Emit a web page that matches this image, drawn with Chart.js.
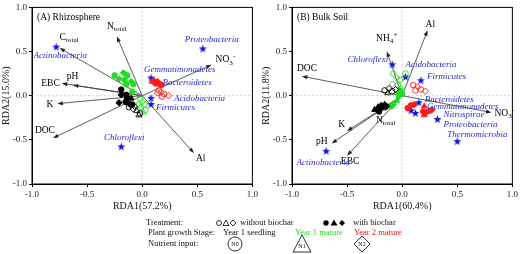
<!DOCTYPE html>
<html>
<head>
<meta charset="utf-8">
<script src="https://cdn.jsdelivr.net/npm/chart.js@4"></script>
<style>
  html, body { margin: 0; padding: 0; background: #fff; }
  #wrap { position: relative; width: 520px; height: 254px; overflow: hidden; }
  .pane { position: absolute; top: 0; width: 260px; height: 215px; }
  #legend { position: absolute; left: 0; top: 212px; font-family: "Liberation Serif", serif; }
</style>
</head>
<body>
<div id="wrap">
  <div class="pane" style="left:0"><canvas id="rhizo" width="260" height="215"></canvas></div>
  <div class="pane" style="left:260px"><canvas id="bulk" width="260" height="215"></canvas></div>
  <svg id="legend" width="520" height="42" viewBox="0 0 520 42">
    <g font-size="8.5" fill="#111" dominant-baseline="middle">
      <text x="146" y="11">Treatment:</text>
      <circle cx="219" cy="11" r="2.5" fill="none" stroke="#000" stroke-width="0.8"/>
      <polygon points="226,8 223,13.5 229,13.5" fill="none" stroke="#000" stroke-width="0.8"/>
      <polygon points="233,8 236,11 233,14 230,11" fill="none" stroke="#000" stroke-width="0.8"/>
      <text x="240" y="11">without biochar</text>
      <circle cx="326" cy="11" r="2.7" fill="#000"/>
      <polygon points="334,7.5 330.5,13.5 337.5,13.5" fill="#000"/>
      <polygon points="342,8 345,11 342,14 339,11" fill="#000"/>
      <text x="353" y="11">with biochar</text>

      <text x="148" y="21">Plant growth Stage:</text>
      <text x="223" y="21">Year 1 seedling</text>
      <text x="295" y="21" fill="#22dd22">Year 1 mature</text>
      <text x="354" y="21" fill="#ee1111">Year 2 mature</text>

      <text x="148" y="32">Nutrient input:</text>
      <circle cx="235" cy="32" r="7" fill="none" stroke="#000" stroke-width="0.8"/>
      <text x="235" y="32.5" font-size="6" text-anchor="middle">N0</text>
      <polygon points="302,23 293,40 311,40" fill="none" stroke="#000" stroke-width="0.8"/>
      <text x="302" y="35" font-size="6" text-anchor="middle">N1</text>
      <polygon points="362,24 370,32 362,40 354,32" fill="none" stroke="#000" stroke-width="0.8"/>
      <text x="362" y="32.5" font-size="6" text-anchor="middle">N2</text>
    </g>
  </svg>
</div>
<script>
const SERIF = '"Liberation Serif", "Times New Roman", serif';
const GREEN = '#22dd22', RED = '#ff1a1a', BLACK = '#000000', BLUE = '#1414d8';

// ---- (A) Rhizosphere ------------------------------------------------
const rhizoEnv  = ['N_{total}', 'C_{total}', 'pH', 'EBC', 'K', 'DOC', 'Al', 'NO_{3}^{-}'];
const rhizoEnvX = [-0.23, -0.75, -0.63, -0.73, -0.77, -0.81, 0.47, 0.63];
const rhizoEnvY = [0.67, 0.54, 0.12, 0.14, -0.09, -0.48, -0.65, 0.35];

const rhizoTaxa  = ['Actinobacteria', 'Proteobacteria', 'Gemmatimonadetes', 'Bacteroidetes', 'Acidobacteria', 'Firmicutes', 'Chloroflexi'];
const rhizoTaxaX = [-0.78, 0.55, 0.08, 0.14, 0.08, 0.08, -0.19];
const rhizoTaxaY = [0.55, 0.53, 0.20, 0.14, -0.03, -0.10, -0.58];

// sample scores: seedling / year1 mature / year2 mature, open = no biochar
const rhizoSeedOpenX = [-0.12, -0.08, -0.05, -0.02, -0.07, -0.03];
const rhizoSeedOpenY = [-0.13, -0.15, -0.17, -0.20, -0.12, -0.22];
const rhizoSeedOpenS = ['c', 'd', 't', 'c', 'd', 't'];
const rhizoSeedFillX = [-0.19, -0.21, -0.15, -0.135, -0.11, -0.09, -0.10, -0.145, -0.19];
const rhizoSeedFillY = [0.01, -0.08, -0.07, -0.03, -0.10, -0.10, -0.03, 0.01, 0.07];
const rhizoSeedFillS = ['d', 'd', 'c', 'c', 'd', 'c', 't', 'c', 'c'];
const rhizoMatOpenX  = [-0.02, 0.00, 0.02, -0.01, 0.03, 0.01, -0.03];
const rhizoMatOpenY  = [-0.03, -0.07, -0.10, -0.13, -0.16, -0.19, -0.10];
const rhizoMatOpenS  = ['c', 'd', 'c', 'd', 'c', 't', 'c'];
const rhizoMatFillX  = [-0.25, -0.17, -0.135, -0.21, -0.16, -0.10, -0.145, -0.08, -0.09];
const rhizoMatFillY  = [0.23, 0.26, 0.23, 0.19, 0.18, 0.16, 0.13, 0.13, 0.045];
const rhizoMatFillS  = ['c', 'd', 'c', 'd', 'c', 'd', 'c', 'c', 'c'];
const rhizoY2OpenX   = [0.15, 0.17, 0.20, 0.24, 0.18, 0.14];
const rhizoY2OpenY   = [0.06, 0.04, 0.02, 0.00, -0.01, 0.03];
const rhizoY2OpenS   = ['c', 'd', 'c', 'd', 'c', 'd'];
const rhizoY2FillX   = [0.09, 0.12, 0.14, 0.16, 0.18, 0.11];
const rhizoY2FillY   = [0.16, 0.14, 0.16, 0.13, 0.12, 0.17];
const rhizoY2FillS   = ['t', 'c', 'd', 'c', 'd', 't'];

// ---- (B) Bulk soil --------------------------------------------------
const bulkEnv  = ['NH_{4}^{+}', 'Al', 'DOC', 'NO_{3}^{-}', 'K', 'pH', 'EBC', 'N_{total}'];
const bulkEnvX = [-0.14, 0.23, -0.91, 0.81, -0.50, -0.64, -0.50, -0.22];
const bulkEnvY = [0.50, 0.74, 0.22, -0.19, -0.40, -0.54, -0.68, -0.18];

const bulkTaxa  = ['Chloroflexi', 'Acidobacteria', 'Firmicutes', 'Bacteroidetes', 'Gemmatimonadetes', 'Nitrospirae', 'Proteobacteria', 'Thermomicrobia', 'Actinobacteria'];
const bulkTaxaX = [-0.09, 0.03, 0.17, 0.15, 0.08, 0.12, 0.32, 0.50, -0.69];
const bulkTaxaY = [0.35, 0.21, 0.17, -0.08, -0.17, -0.20, -0.27, -0.52, -0.63];

const bulkSeedOpenX = [-0.16, -0.12, -0.09, -0.06, -0.13];
const bulkSeedOpenY = [0.06, 0.08, 0.05, 0.07, 0.03];
const bulkSeedOpenS = ['c', 'd', 'c', 'd', 't'];
const bulkSeedFillX = [-0.25, -0.22, -0.19, -0.17, -0.21, -0.16, -0.14];
const bulkSeedFillY = [-0.16, -0.13, -0.11, -0.14, -0.18, -0.10, -0.12];
const bulkSeedFillS = ['t', 't', 'd', 't', 'c', 't', 'd'];
const bulkMatOpenX  = [-0.08, 0.03, -0.05, -0.02, -0.09, -0.04, -0.01];
const bulkMatOpenY  = [0.25, 0.25, 0.20, 0.18, 0.13, 0.12, 0.08];
const bulkMatOpenS  = ['c', 'c', 'd', 'c', 'd', 'c', 'd'];
const bulkMatFillX  = [-0.02, -0.03, 0.00, -0.05, -0.08, -0.10, -0.03];
const bulkMatFillY  = [0.06, 0.03, 0.02, -0.06, -0.10, -0.12, 0.00];
const bulkMatFillS  = ['c', 'd', 'c', 't', 'd', 'c', 'c'];
const bulkY2OpenX   = [0.10, 0.14, 0.17, 0.21, 0.12];
const bulkY2OpenY   = [0.12, 0.10, 0.07, 0.05, 0.06];
const bulkY2OpenS   = ['c', 'd', 'c', 'd', 'c'];
const bulkY2FillX   = [0.05, 0.08, 0.11, 0.20, 0.19, 0.22, 0.25, 0.20, 0.27];
const bulkY2FillY   = [-0.14, -0.11, -0.10, -0.12, -0.18, -0.19, -0.17, -0.22, -0.16];
const bulkY2FillS   = ['c', 'c', 'd', 't', 'c', 'd', 'c', 't', 'd'];

const AXIS_TICKS = [-1.0, -0.5, 0.0, 0.5, 1.0];

// label placement (pixels from the arrow tip / star), kept apart from the data
const rhizoEnvLab  = [[0, -10, 'center'], [0, -11, 'left'], [-6, -9, 'left'], [-2, 0, 'right'], [-4, 1, 'right'], [2, -8, 'right'], [2, 5, 'left'], [4, -5, 'left']];
const rhizoTaxaLab = [[4, 9, 'center'], [9, -9, 'center'], [-7, -8, 'left'], [5, -1, 'left'], [23, 0, 'left'], [5, 3, 'left'], [3, -9, 'center']];
const bulkEnvLab   = [[0, -13, 'center'], [-2, -6, 'left'], [-5, -8, 'left'], [3, 1, 'left'], [-2, -7, 'right'], [-4, -2, 'right'], [3, 6, 'center'], [-2, 9, 'left']];
const bulkTaxaLab  = [[-4, -5, 'right'], [0, -13, 'left'], [6, -4, 'left'], [6, -3, 'left'], [16, -4, 'left'], [28, 1, 'left'], [6, 5, 'left'], [-10, -7, 'left'], [-3, 11, 'center']];

const SHAPE = { c: 'circle', t: 'triangle', d: 'rectRot' };

function starImage(color, r) {
  const c = document.createElement('canvas');
  const s = Math.ceil(r * 2) + 2;
  c.width = c.height = s;
  const g = c.getContext('2d');
  g.fillStyle = color;
  g.beginPath();
  for (let i = 0; i < 10; i++) {
    const a = -Math.PI / 2 + i * Math.PI / 5;
    const rr = i % 2 ? r * 0.42 : r;
    g.lineTo(s / 2 + rr * Math.cos(a), s / 2 + rr * Math.sin(a));
  }
  g.closePath();
  g.fill();
  return c;
}
const STAR = starImage(BLUE, 4.2);

function group(xs, ys, shapes, color, filled) {
  return {
    data: xs.map((x, i) => ({ x, y: ys[i] })),
    pointStyle: shapes.map(s => SHAPE[s]),
    pointRadius: shapes.map(s => s === 't' ? 3.4 : s === 'd' ? 3.2 : 2.8),
    borderColor: color,
    backgroundColor: filled ? color : 'rgba(0,0,0,0)',
    borderWidth: 0.9,
  };
}

// text with _{sub} and ^{sup} parts
function drawRich(ctx, str, x, y, align, size, style, color) {
  const parts = [];
  str.replace(/_\{([^}]*)\}|\^\{([^}]*)\}|([^_^]+)/g, (m, sub, sup, txt) => {
    if (sub != null) parts.push({ t: sub, k: 'sub' });
    else if (sup != null) parts.push({ t: sup, k: 'sup' });
    else parts.push({ t: txt, k: 'n' });
  });
  const fontFor = k => `${style} ${k === 'n' ? size : size * 0.75}px ${SERIF}`;
  let w = 0;
  parts.forEach(p => { ctx.font = fontFor(p.k); p.w = ctx.measureText(p.t).width; w += p.w; });
  let cx = align === 'center' ? x - w / 2 : align === 'right' ? x - w : x;
  ctx.fillStyle = color;
  ctx.textAlign = 'left';
  ctx.textBaseline = 'middle';
  parts.forEach(p => {
    ctx.font = fontFor(p.k);
    const dy = p.k === 'sub' ? size * 0.3 : p.k === 'sup' ? -size * 0.35 : 0;
    ctx.fillText(p.t, cx, y + dy);
    cx += p.w;
  });
}

function makeBiplot(title, env, ex, ey, envLab, taxa, tx, ty, taxaLab) {
  return {
    id: 'biplot',
    beforeDatasetsDraw(chart) {
      const { ctx, chartArea: a, scales: { x, y } } = chart;
      const x0 = x.getPixelForValue(0), y0 = y.getPixelForValue(0);
      ctx.save();
      ctx.strokeStyle = '#c4c4c4';
      ctx.lineWidth = 0.8;
      ctx.setLineDash([2, 2]);
      ctx.beginPath();
      ctx.moveTo(x0, a.top); ctx.lineTo(x0, a.bottom);
      ctx.moveTo(a.left, y0); ctx.lineTo(a.right, y0);
      ctx.stroke();
      ctx.setLineDash([]);

      env.forEach((name, i) => {
        const px = x.getPixelForValue(ex[i]), py = y.getPixelForValue(ey[i]);
        const ang = Math.atan2(py - y0, px - x0);
        ctx.strokeStyle = '#333';
        ctx.fillStyle = '#222';
        ctx.lineWidth = 0.8;
        ctx.beginPath();
        ctx.moveTo(x0, y0);
        ctx.lineTo(px - 3 * Math.cos(ang), py - 3 * Math.sin(ang));
        ctx.stroke();
        ctx.beginPath();
        ctx.moveTo(px, py);
        ctx.lineTo(px - 5.5 * Math.cos(ang) + 2 * Math.sin(ang), py - 5.5 * Math.sin(ang) - 2 * Math.cos(ang));
        ctx.lineTo(px - 5.5 * Math.cos(ang) - 2 * Math.sin(ang), py - 5.5 * Math.sin(ang) + 2 * Math.cos(ang));
        ctx.closePath();
        ctx.fill();
        const [dx, dy, al] = envLab[i];
        drawRich(ctx, name, px + dx, py + dy, al, 9.5, 'normal', '#000');
      });
      ctx.restore();
    },
    afterDatasetsDraw(chart) {
      const { ctx, chartArea: a, scales: { x, y } } = chart;
      ctx.save();
      taxa.forEach((name, i) => {
        const px = x.getPixelForValue(tx[i]), py = y.getPixelForValue(ty[i]);
        const [dx, dy, al] = taxaLab[i];
        drawRich(ctx, name, px + dx, py + dy, al, 9, 'italic', '#2a2ad0');
      });
      drawRich(ctx, title, a.left + 5, a.top + 10, 'left', 9.5, 'normal', '#000');
      ctx.strokeStyle = '#000';
      ctx.lineWidth = 1;
      ctx.strokeRect(a.left, a.top, a.right - a.left, a.bottom - a.top);
      ctx.restore();
    }
  };
}

function axis(titleText, horizontal) {
  return {
    type: 'linear',
    min: -1, max: 1,
    afterBuildTicks: s => { s.ticks = AXIS_TICKS.map(v => ({ value: v })); },
    afterFit: s => { if (horizontal) s.height = 31; else s.width = 32; },
    grid: { drawOnChartArea: false, drawTicks: true, tickLength: 3, color: '#000' },
    border: { display: true, color: '#000', width: 1 },
    ticks: {
      padding: 2,
      color: '#222',
      font: { family: SERIF, size: 9 },
      callback: v => v.toFixed(1),
    },
    title: {
      display: true,
      text: titleText,
      color: '#111',
      font: { family: SERIF, size: 10 },
      padding: horizontal ? { top: 0, bottom: 3 } : { top: 0, bottom: 2 },
    },
  };
}

function renderPanel(canvasId, title, xTitle, yTitle, groups, env, ex, ey, envLab, taxa, tx, ty, taxaLab) {
  const ctx = document.getElementById(canvasId)?.getContext('2d');
  if (!ctx) return null;
  const datasets = groups.slice();
  datasets.push({
    data: tx.map((v, i) => ({ x: v, y: ty[i] })),
    pointStyle: STAR,
    pointRadius: 4,
    borderWidth: 0,
  });
  return new Chart(ctx, {
    type: 'scatter',
    data: { datasets },
    options: {
      responsive: false,
      animation: false,
      events: [],
      layout: { padding: { top: 5, right: 7, left: 0, bottom: 0 } },
      plugins: { legend: { display: false }, tooltip: { enabled: false } },
      scales: { x: axis(xTitle, true), y: axis(yTitle, false) },
    },
    plugins: [makeBiplot(title, env, ex, ey, envLab, taxa, tx, ty, taxaLab)],
  });
}

renderPanel('rhizo', '(A) Rhizosphere', 'RDA1(57.2%)', 'RDA2(15.0%)', [
  group(rhizoSeedOpenX, rhizoSeedOpenY, rhizoSeedOpenS, BLACK, false),
  group(rhizoMatOpenX, rhizoMatOpenY, rhizoMatOpenS, GREEN, false),
  group(rhizoY2OpenX, rhizoY2OpenY, rhizoY2OpenS, RED, false),
  group(rhizoSeedFillX, rhizoSeedFillY, rhizoSeedFillS, BLACK, true),
  group(rhizoMatFillX, rhizoMatFillY, rhizoMatFillS, GREEN, true),
  group(rhizoY2FillX, rhizoY2FillY, rhizoY2FillS, RED, true),
], rhizoEnv, rhizoEnvX, rhizoEnvY, rhizoEnvLab, rhizoTaxa, rhizoTaxaX, rhizoTaxaY, rhizoTaxaLab);

renderPanel('bulk', '(B) Bulk Soil', 'RDA1(60.4%)', 'RDA2(11.8%)', [
  group(bulkSeedOpenX, bulkSeedOpenY, bulkSeedOpenS, BLACK, false),
  group(bulkMatOpenX, bulkMatOpenY, bulkMatOpenS, GREEN, false),
  group(bulkY2OpenX, bulkY2OpenY, bulkY2OpenS, RED, false),
  group(bulkSeedFillX, bulkSeedFillY, bulkSeedFillS, BLACK, true),
  group(bulkMatFillX, bulkMatFillY, bulkMatFillS, GREEN, true),
  group(bulkY2FillX, bulkY2FillY, bulkY2FillS, RED, true),
], bulkEnv, bulkEnvX, bulkEnvY, bulkEnvLab, bulkTaxa, bulkTaxaX, bulkTaxaY, bulkTaxaLab);
</script>
</body>
</html>
